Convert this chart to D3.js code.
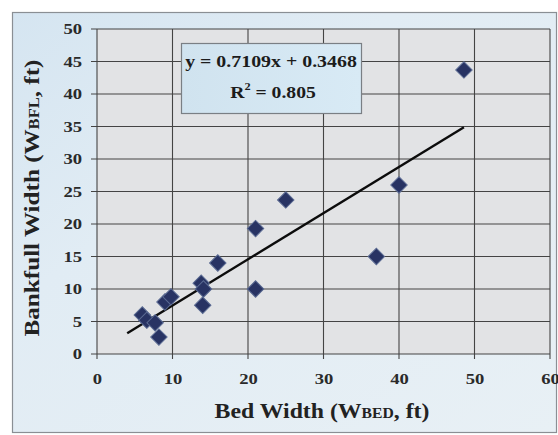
<!DOCTYPE html>
<html>
<head>
<meta charset="utf-8">
<script src="https://cdn.jsdelivr.net/npm/d3@7"></script>
<style>
  body { margin: 0; background: #fff; }
  text { font-family: "Liberation Serif", "DejaVu Serif", serif; font-weight: bold; }
</style>
</head>
<body>
<script>
// measured points, bed width vs bankfull width (ft)
const bedWidth = [6, 6.6, 7.7, 8.2, 9, 9.8, 13.8, 14.1, 14, 16, 21, 21, 25, 37, 40, 48.6]
const bankfullWidth = [6, 5.2, 4.8, 2.6, 8, 8.8, 10.9, 10, 7.5, 14, 19.3, 10, 23.7, 15, 26, 43.7]

const xTicks = [0, 10, 20, 30, 40, 50, 60]
const yTicks = [0, 5, 10, 15, 20, 25, 30, 35, 40, 45, 50]

const slope = 0.7109
const intercept = 0.3468
const trendRange = [4, 48.6]
const eqLabel = 'y = 0.7109x + 0.3468'
const r2Value = '0.805'

const width = 558
const height = 435
const margin = {top: 29, right: 8, bottom: 81, left: 97}

const svg = d3.select('body').append('svg')
    .attr('width', width)
    .attr('height', height)

const defs = svg.append('defs')
const bg = defs.append('linearGradient')
    .attr('id', 'bg')
    .attr('x1', 0).attr('y1', 0).attr('x2', 1).attr('y2', 1)
bg.append('stop').attr('offset', '0%').attr('stop-color', '#d5e5f1')
bg.append('stop').attr('offset', '35%').attr('stop-color', '#e1ecf4')
bg.append('stop').attr('offset', '100%').attr('stop-color', '#e8f0f5')

const boxGrad = defs.append('linearGradient')
    .attr('id', 'boxbg')
    .attr('x1', 0).attr('y1', 0).attr('x2', 1).attr('y2', 0)
boxGrad.append('stop').attr('offset', '0%').attr('stop-color', '#d0e3ef')
boxGrad.append('stop').attr('offset', '100%').attr('stop-color', '#d8eaf5')

// stretch a text group horizontally (along its own axis) to a measured width
const fitWidth = (g, target, tx, ty, rot) => {
    const w = g.node().getBBox().width
    g.attr('transform', `translate(${tx},${ty}) rotate(${rot || 0}) scale(${target / w},1)`)
}

// outer chart frame
svg.append('rect')
    .attr('x', 12.5).attr('y', 12.5)
    .attr('width', 544).attr('height', 420)
    .attr('fill', 'url(#bg)')
    .attr('stroke', '#8a8f94')
    .attr('stroke-width', 1.2)

const x = d3.scaleLinear()
    .domain([0, 60])
    .range([margin.left, width - margin.right])

const y = d3.scaleLinear()
    .domain([0, 50])
    .range([height - margin.bottom, margin.top])

// plot area
svg.append('rect')
    .attr('x', x(0)).attr('y', y(50))
    .attr('width', x(60) - x(0)).attr('height', y(0) - y(50))
    .attr('fill', '#e2e3e5')

// grid
svg.append('g')
    .selectAll('line.h')
    .data(yTicks)
    .enter()
    .append('line')
    .attr('x1', x(0) - 6).attr('x2', x(60))
    .attr('y1', d => y(d)).attr('y2', d => y(d))
    .attr('stroke', '#444')
    .attr('stroke-width', 1.1)

svg.append('g')
    .selectAll('line.v')
    .data(xTicks)
    .enter()
    .append('line')
    .attr('x1', d => x(d)).attr('x2', d => x(d))
    .attr('y1', y(50)).attr('y2', y(0) + 5)
    .attr('stroke', '#444')
    .attr('stroke-width', 1.1)

// tick labels through the axes, then widened like the scan
const xAxis = svg.append('g')
    .attr('transform', `translate(0,${y(0)})`)
    .call(d3.axisBottom(x).tickValues(xTicks).tickSize(0).tickPadding(19))
xAxis.select('.domain').remove()
xAxis.selectAll('text')
    .attr('font-size', 15.5)
    .attr('fill', '#2a2a2a')
    .style('font-family', '"Liberation Serif", serif')
    .attr('textLength', d => String(d).length * 9.3)
    .attr('lengthAdjust', 'spacingAndGlyphs')

const yAxis = svg.append('g')
    .attr('transform', `translate(${x(0)},0)`)
    .call(d3.axisLeft(y).tickValues(yTicks).tickSize(0).tickPadding(15))
yAxis.select('.domain').remove()
yAxis.selectAll('text')
    .attr('font-size', 15.5)
    .attr('fill', '#2a2a2a')
    .style('font-family', '"Liberation Serif", serif')
    .attr('textLength', d => String(d).length * 9.3)
    .attr('lengthAdjust', 'spacingAndGlyphs')

// trend line
svg.append('line')
    .attr('x1', x(trendRange[0]))
    .attr('y1', y(slope * trendRange[0] + intercept))
    .attr('x2', x(trendRange[1]))
    .attr('y2', y(slope * trendRange[1] + intercept))
    .attr('stroke', '#0c0c0c')
    .attr('stroke-width', 2.4)

// points
const pts = bedWidth.map((d, i) => ({bx: d, bf: bankfullWidth[i]}))
const diamond = d3.symbol().type(d3.symbolSquare).size(135)
svg.append('g')
    .selectAll('path.datapoint')
    .data(pts)
    .enter()
    .append('path')
    .attr('class', 'datapoint')
    .attr('d', diamond)
    .attr('transform', d => `translate(${x(d.bx)},${y(d.bf)}) rotate(45)`)
    .attr('fill', '#283363')
    .attr('stroke', '#5a6a92')
    .attr('stroke-width', 1)

// equation box
svg.append('rect')
    .attr('x', 181.5).attr('y', 43.5)
    .attr('width', 180).attr('height', 70)
    .attr('fill', 'url(#boxbg)')
    .attr('stroke', '#7a7f84')
    .attr('stroke-width', 1.2)

const eq = svg.append('g')
eq.append('text')
    .attr('text-anchor', 'middle')
    .attr('font-size', 17.5)
    .attr('fill', '#1c1c1c')
    .text(eqLabel)
fitWidth(eq, 172, 271, 67)

const r2g = svg.append('g')
const r2 = r2g.append('text')
    .attr('text-anchor', 'middle')
    .attr('font-size', 17.5)
    .attr('fill', '#1c1c1c')
r2.append('tspan').text('R')
r2.append('tspan').attr('font-size', 11).attr('dy', -8).text('2')
r2.append('tspan').attr('dy', 8).text(' = ' + r2Value)
fitWidth(r2g, 86, 273, 98)

// axis titles
const xtg = svg.append('g')
const xt = xtg.append('text')
    .attr('text-anchor', 'middle')
    .attr('font-size', 22)
    .attr('fill', '#222')
xt.append('tspan').text('Bed Width (W')
xt.append('tspan').attr('font-size', 14.5).text('BED')
xt.append('tspan').text(', ft)')
fitWidth(xtg, 215, 322, 418)

const ytg = svg.append('g')
const yt = ytg.append('text')
    .attr('text-anchor', 'middle')
    .attr('font-size', 22)
    .attr('fill', '#222')
yt.append('tspan').text('Bankfull Width (W')
yt.append('tspan').attr('font-size', 14.5).text('BFL')
yt.append('tspan').text(', ft)')
fitWidth(ytg, 277, 39, 198, -90)
</script>
</body>
</html>
